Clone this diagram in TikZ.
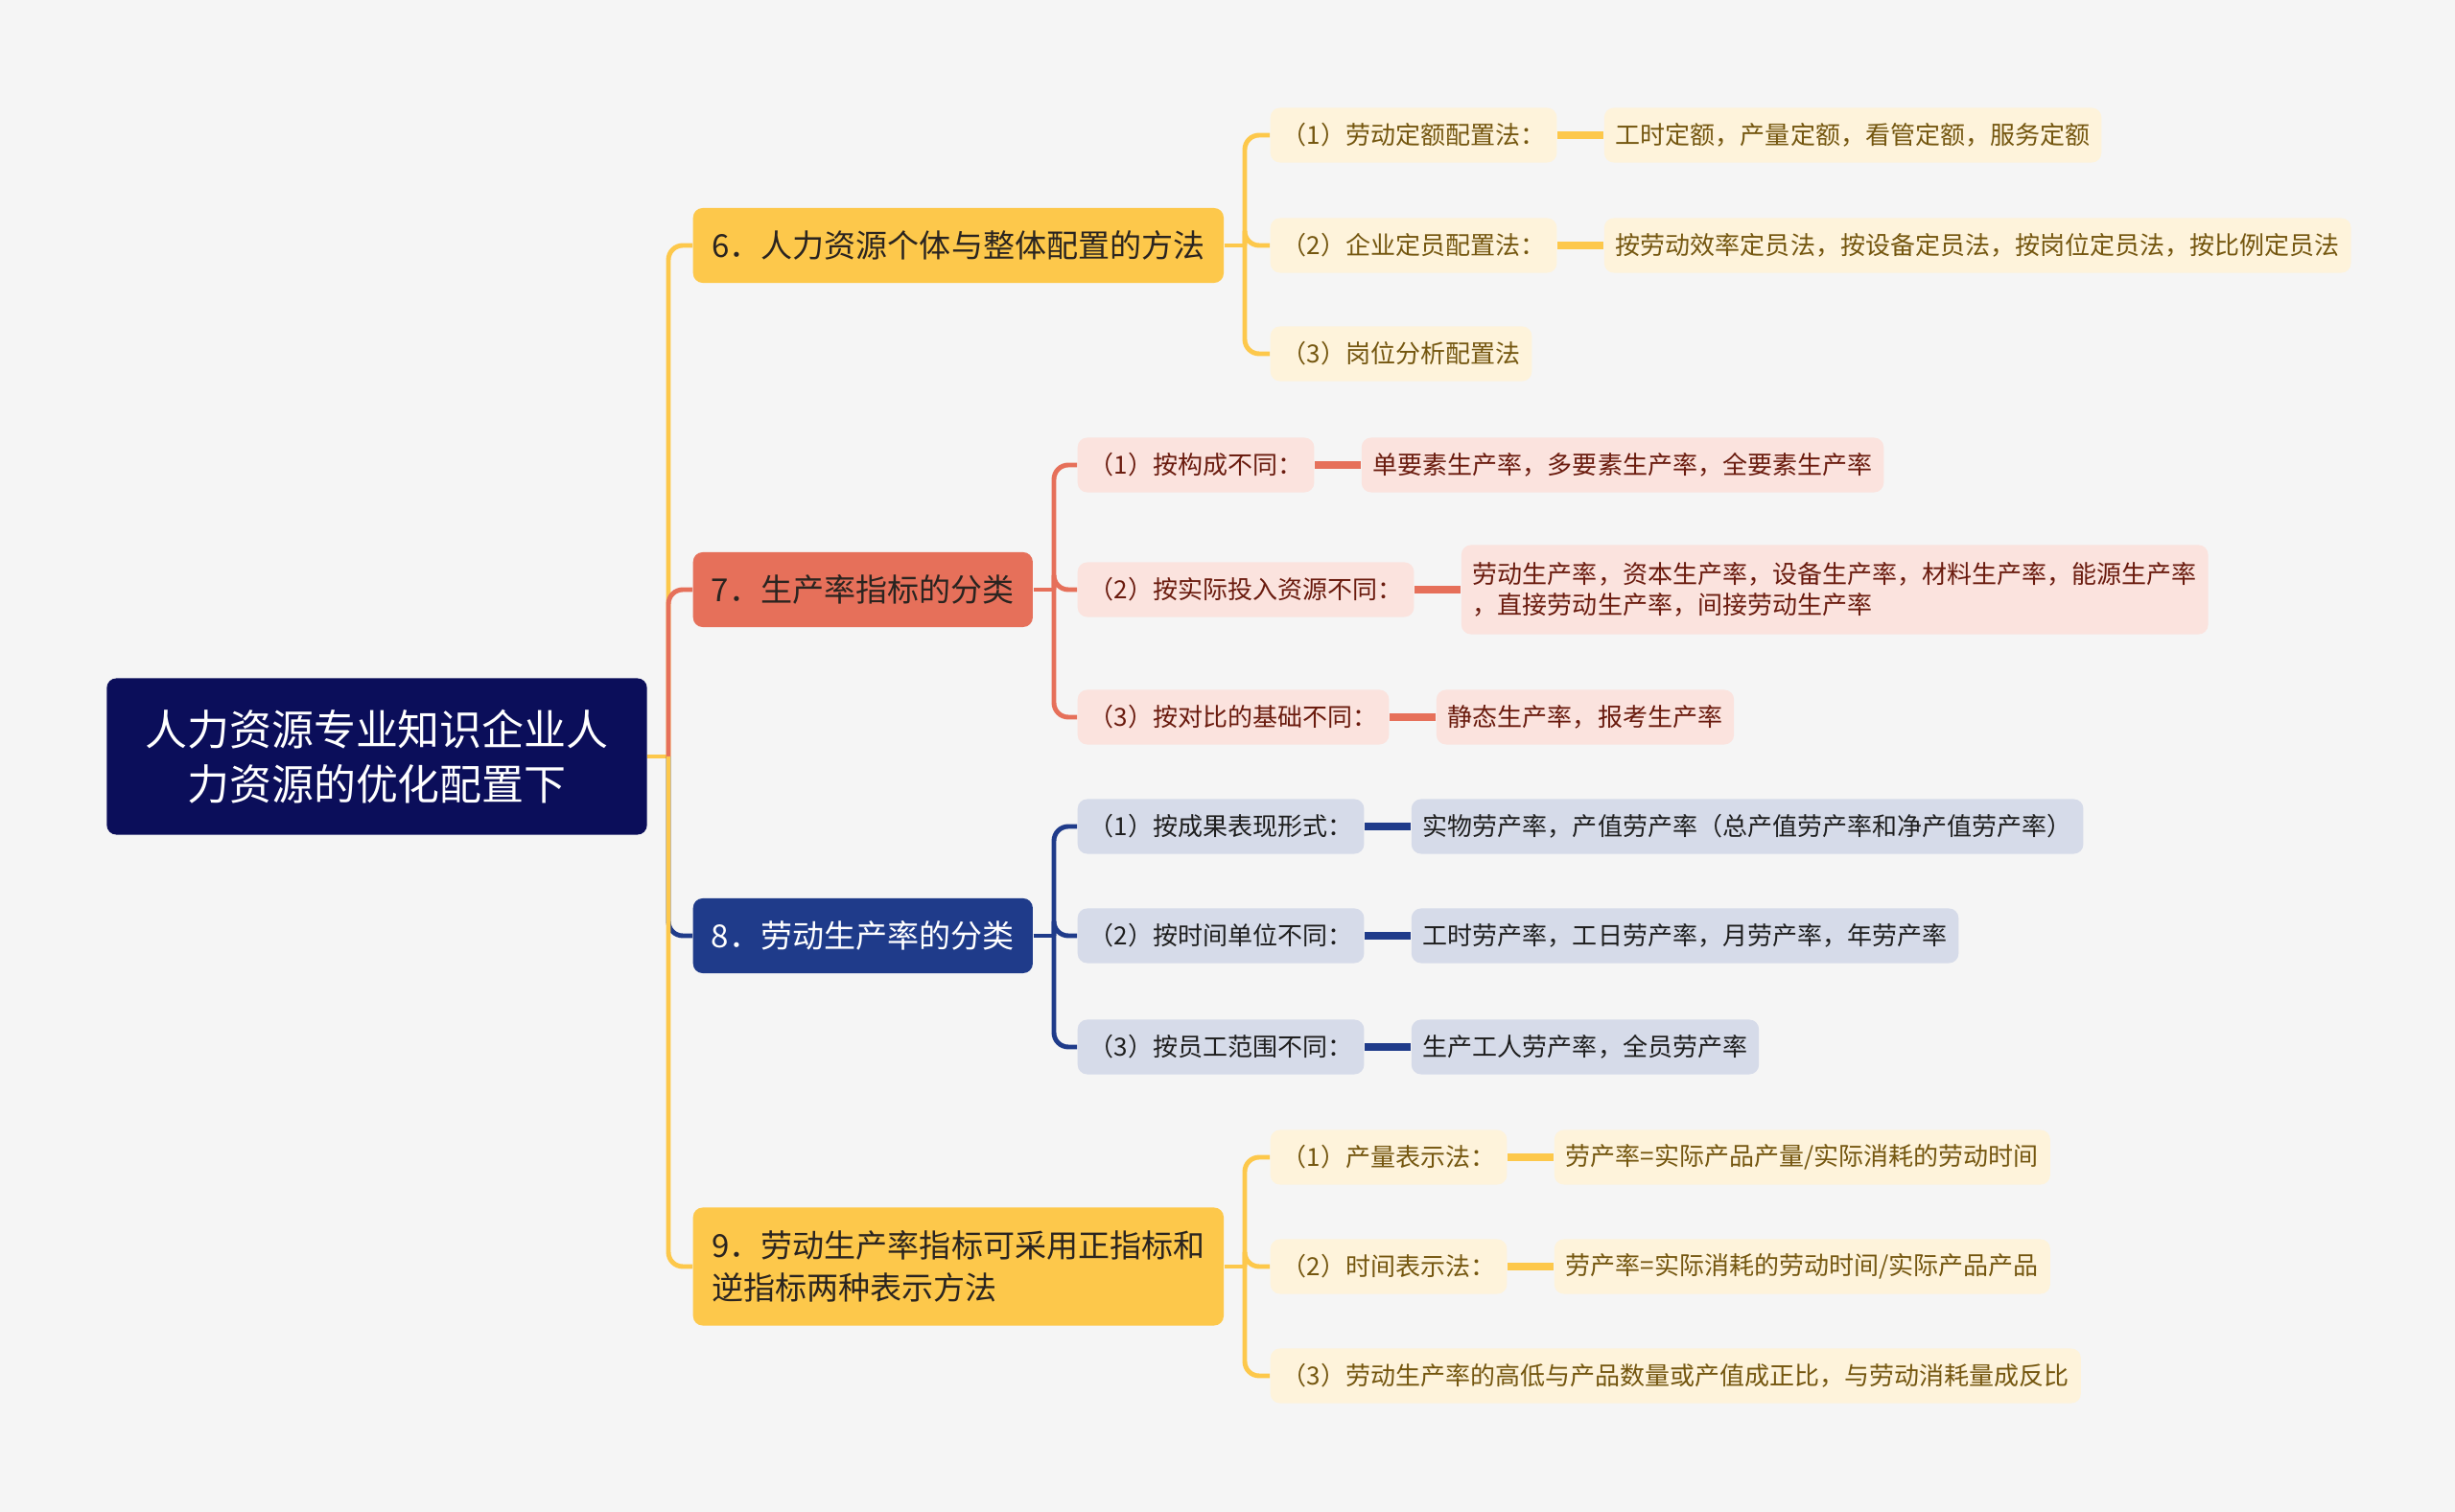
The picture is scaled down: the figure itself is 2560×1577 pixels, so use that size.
\documentclass[tikz,border=0pt]{standalone}
\usepackage{fontspec}
\setmainfont{Noto Sans CJK SC}
\usepackage{tikz}
\usetikzlibrary{positioning}

\definecolor{bgcol}{HTML}{F5F5F5}
\definecolor{rootcol}{HTML}{0B0E5A}
\definecolor{ycol}{HTML}{FDC84B}
\definecolor{rcol}{HTML}{E6705A}
\definecolor{bcol}{HTML}{1F3B8A}
\definecolor{ylight}{HTML}{FEF3DB}
\definecolor{rlight}{HTML}{FBE3DE}
\definecolor{blight}{HTML}{D6DBE9}
\definecolor{ytext}{HTML}{74560F}
\definecolor{rtext}{HTML}{6A1B0E}
\definecolor{btext}{HTML}{1E1E1E}
\definecolor{dtext}{HTML}{2A2420}

\tikzset{
  rootbox/.style={fill=rootcol, text=white, rounded corners=0.1cm, align=center,
    minimum width=5.63cm, minimum height=1.63cm, font=\fontsize{12.5pt}{16.2pt}\selectfont},
  mainbox/.style={anchor=west, rounded corners=0.1cm, align=left, inner xsep=0.17cm,
    minimum height=0.78cm, font=\fontsize{9.4pt}{12.5pt}\selectfont},
  subbox/.style={anchor=west, rounded corners=0.1cm, align=left, inner xsep=0.12cm,
    inner ysep=0.1cm, minimum height=0.57cm, font=\fontsize{7.4pt}{9.3pt}\selectfont},
  ysub/.style={subbox, fill=ylight, text=ytext},
  rsub/.style={subbox, fill=rlight, text=rtext},
  bsub/.style={subbox, fill=blight, text=btext},
  link/.style={line width=1.4pt, rounded corners=0.15cm},
  leaflink/.style={line width=2pt},
}

\begin{document}
\begin{tikzpicture}[x=0.01cm, y=-0.01cm]
    \useasboundingbox (0,0) rectangle (2560,1577);
    \fill[bgcol] (0,0) rectangle (2560,1577);

    % root and main branches
    \node[rootbox] (root) at (393,789) {人力资源专业知识企业人\\力资源的优化配置下};
    \node[mainbox, fill=ycol, text=dtext, minimum width=5.53cm] (n6) at (722,256) {6．人力资源个体与整体配置的方法};
    \node[mainbox, fill=rcol, text=dtext, minimum width=3.54cm] (n7) at (722,615) {7．生产率指标的分类};
    \node[mainbox, fill=bcol, text=white, minimum width=3.54cm] (n8) at (722,976) {8．劳动生产率的分类};
    \node[mainbox, fill=ycol, text=dtext, minimum width=5.53cm, minimum height=1.23cm] (n9) at (722,1321) {9．劳动生产率指标可采用正指标和\\逆指标两种表示方法};

    \coordinate (t0) at (697,0);
    \coordinate (t6) at (1298,0);
    \coordinate (t7) at (1099,0);
    \coordinate (t9) at (1298,0);

    % branch 6
    \node[ysub] (n6a) at (1324,141) {（1）劳动定额配置法：};
    \node[ysub] (n6b) at (1324,256) {（2）企业定员配置法：};
    \node[ysub] (n6c) at (1324,369) {（3）岗位分析配置法};
    \node[ysub, right=0.48cm of n6a] (n6a1) {工时定额，产量定额，看管定额，服务定额};
    \node[ysub, right=0.48cm of n6b] (n6b1) {按劳动效率定员法，按设备定员法，按岗位定员法，按比例定员法};

    % branch 7
    \node[rsub] (n7a) at (1123,485) {（1）按构成不同：};
    \node[rsub] (n7b) at (1123,615) {（2）按实际投入资源不同：};
    \node[rsub] (n7c) at (1123,748) {（3）按对比的基础不同：};
    \node[rsub, right=0.48cm of n7a] (n7a1) {单要素生产率，多要素生产率，全要素生产率};
    \node[rsub, right=0.48cm of n7b, minimum height=0.93cm] (n7b1) {劳动生产率，资本生产率，设备生产率，材料生产率，能源生产率\\，直接劳动生产率，间接劳动生产率};
    \node[rsub, right=0.48cm of n7c] (n7c1) {静态生产率，报考生产率};

    % branch 8
    \node[bsub] (n8a) at (1123,862) {（1）按成果表现形式：};
    \node[bsub] (n8b) at (1123,976) {（2）按时间单位不同：};
    \node[bsub] (n8c) at (1123,1092) {（3）按员工范围不同：};
    \node[bsub, right=0.48cm of n8a] (n8a1) {实物劳产率，产值劳产率（总产值劳产率和净产值劳产率）};
    \node[bsub, right=0.48cm of n8b] (n8b1) {工时劳产率，工日劳产率，月劳产率，年劳产率};
    \node[bsub, right=0.48cm of n8c] (n8c1) {生产工人劳产率，全员劳产率};

    % branch 9
    \node[ysub] (n9a) at (1324,1207) {（1）产量表示法：};
    \node[ysub] (n9b) at (1324,1321) {（2）时间表示法：};
    \node[ysub] (n9c) at (1324,1435) {（3）劳动生产率的高低与产品数量或产值成正比，与劳动消耗量成反比};
    \node[ysub, right=0.48cm of n9a] (n9a1) {劳产率=实际产品产量/实际消耗的劳动时间};
    \node[ysub, right=0.48cm of n9b] (n9b1) {劳产率=实际消耗的劳动时间/实际产品产品};

    % connectors from root
    \draw[link, ycol] (root.east) -- (root.east -| t0);
    \draw[link, ycol] (root.east -| t0) |- (n6.west);
    \draw[link, bcol] (root.east -| t0) |- (n8.west);
    \draw[link, rcol] (root.east -| t0) |- (n7.west);
    \draw[link, ycol] (root.east -| t0) |- (n9.west);

    % connectors of branch 6
    \draw[link, ycol] (n6.east) -- (n6.east -| t6);
    \draw[link, ycol] (n6.east -| t6) |- (n6a.west);
    \draw[link, ycol] (n6.east -| t6) |- (n6b.west);
    \draw[link, ycol] (n6.east -| t6) |- (n6c.west);
    \draw[leaflink, ycol] (n6a) -- (n6a1);
    \draw[leaflink, ycol] (n6b) -- (n6b1);

    % connectors of branch 7
    \draw[link, rcol] (n7.east) -- (n7.east -| t7);
    \draw[link, rcol] (n7.east -| t7) |- (n7a.west);
    \draw[link, rcol] (n7.east -| t7) |- (n7b.west);
    \draw[link, rcol] (n7.east -| t7) |- (n7c.west);
    \draw[leaflink, rcol] (n7a) -- (n7a1);
    \draw[leaflink, rcol] (n7b) -- (n7b1);
    \draw[leaflink, rcol] (n7c) -- (n7c1);

    % connectors of branch 8
    \draw[link, bcol] (n8.east) -- (n8.east -| t7);
    \draw[link, bcol] (n8.east -| t7) |- (n8a.west);
    \draw[link, bcol] (n8.east -| t7) |- (n8b.west);
    \draw[link, bcol] (n8.east -| t7) |- (n8c.west);
    \draw[leaflink, bcol] (n8a) -- (n8a1);
    \draw[leaflink, bcol] (n8b) -- (n8b1);
    \draw[leaflink, bcol] (n8c) -- (n8c1);

    % connectors of branch 9
    \draw[link, ycol] (n9.east) -- (n9.east -| t9);
    \draw[link, ycol] (n9.east -| t9) |- (n9a.west);
    \draw[link, ycol] (n9.east -| t9) |- (n9b.west);
    \draw[link, ycol] (n9.east -| t9) |- (n9c.west);
    \draw[leaflink, ycol] (n9a) -- (n9a1);
    \draw[leaflink, ycol] (n9b) -- (n9b1);
\end{tikzpicture}
\end{document}
